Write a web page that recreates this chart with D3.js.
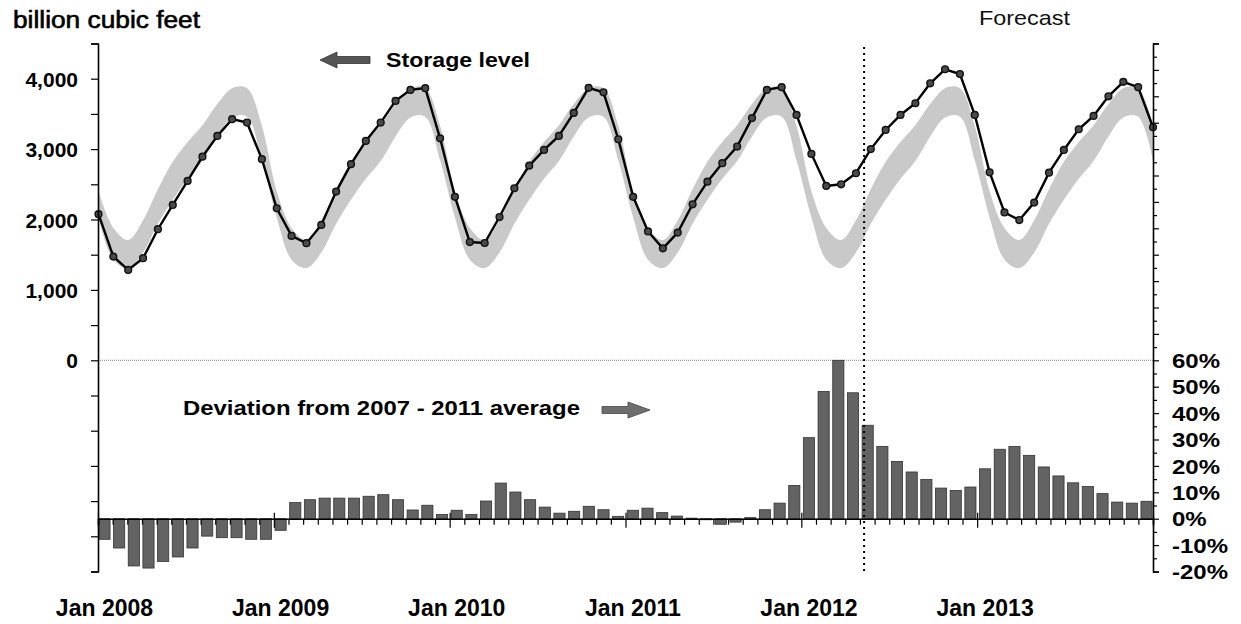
<!DOCTYPE html>
<html><head><meta charset="utf-8">
<script src="https://cdn.jsdelivr.net/npm/d3@7"></script>
<style>
html,body{margin:0;padding:0;background:#fff;}
svg{display:block;font-family:"Liberation Sans",Arial,Helvetica,sans-serif;}
</style></head><body>
<svg id="chart" width="1241" height="624"></svg>
<script>
// ---------- data ----------
const monthNames = ["Jan","Feb","Mar","Apr","May","Jun","Jul","Aug","Sep","Oct","Nov","Dec"];
const years = [2008, 2009, 2010, 2011, 2012, 2013];
const months = years.flatMap(y => monthNames.map(m => m + " " + y));

// working gas in storage, billion cubic feet (end of month)
const storage = [
  2075, 1473, 1284, 1450, 1862, 2207, 2548, 2893, 3187, 3425, 3377, 2857,
  2160, 1767, 1663, 1923, 2396, 2786, 3116, 3377, 3685, 3841, 3866, 3153,
  2322, 1680, 1666, 2035, 2444, 2765, 2988, 3187, 3514, 3870, 3807, 3140,
  2322, 1830, 1590, 1814, 2216, 2537, 2800, 3036, 3440, 3841, 3880, 3485,
  2932, 2477, 2500, 2657, 3000, 3272, 3485, 3651, 3935, 4134, 4067, 3485,
  2670, 2100, 1992, 2240, 2665, 2988, 3282, 3471, 3750, 3955, 3880, 3310
];

// deviation from 2007-2011 average, percent
const deviation = [
  -7.8, -11.1, -17.9, -18.7, -16.2, -14.5, -11.1, -6.6, -7.2, -7.2, -7.8, -7.8,
  -4.4, 6.1, 7.2, 7.8, 7.8, 7.8, 8.5, 9.1, 7.2, 3.3, 5.1, 1.6,
  3.2, 1.6, 6.7, 13.5, 10.1, 7.2, 4.4, 2.1, 2.8, 4.7, 3.4, 0.9,
  3.2, 4.0, 2.3, 1.0, 0.2, -0.4, -2.1, -1.3, 0.4, 3.4, 5.9, 12.6,
  30.7, 48.2, 60.0, 47.7, 35.4, 27.4, 21.7, 17.7, 14.9, 11.6, 10.7, 12.0,
  18.9, 26.3, 27.4, 24.0, 19.6, 16.2, 13.6, 12.2, 9.5, 6.3, 5.9, 6.6
];

// 2007-2011 range (shaded band), by calendar month
const rangeLow  = [2030, 1430, 1310, 1530, 1940, 2280, 2580, 2830, 3180, 3450, 3460, 2840];
const rangeHigh = [2400, 1880, 1710, 1990, 2430, 2820, 3100, 3340, 3640, 3865, 3865, 3330];

const xTickLabels = ["Jan 2008", "Jan 2009", "Jan 2010", "Jan 2011", "Jan 2012", "Jan 2013"];
const leftTickValues = [0, 1000, 2000, 3000, 4000];
const leftTickLabels = ["0", "1,000", "2,000", "3,000", "4,000"];
const rightTickValues = [-20, -10, 0, 10, 20, 30, 40, 50, 60];
const rightTickLabels = ["-20%", "-10%", "0%", "10%", "20%", "30%", "40%", "50%", "60%"];
const forecastStart = "May 2012";

// ---------- layout ----------
const svg = d3.select("#chart");
const X0 = 98, X1 = 1153, YT = 43.5, YB = 571.5;

const xBand = d3.scaleBand().domain(months).range([X0, X1]).paddingInner(0.24).paddingOuter(0.06);
const xLine = d3.scalePoint().domain(months).range([X0 + 0.5, X1]);
const xEdge = d3.scaleLinear().domain([0, months.length]).range([X0, X1]);
const yL = d3.scaleLinear().domain([-3000, 4500]).range([YB, YT]);
const yR = d3.scaleLinear().domain([-20, 180]).range([YB, YT]);

// ---------- band ----------
const bandData = months.map((m, i) => ({m, lo: rangeLow[i % 12], hi: rangeHigh[i % 12]}));
svg.append("path")
  .datum(bandData)
  .attr("fill", "#c9c9c9")
  .attr("d", d3.area().x(d => xLine(d.m)).y0(d => yL(d.lo)).y1(d => yL(d.hi)).curve(d3.curveCatmullRom));

// zero / 60% reference line
svg.append("line")
  .attr("x1", X0).attr("x2", X1).attr("y1", yL(0)).attr("y2", yL(0))
  .attr("stroke", "#8a8a8a").attr("stroke-width", 1).attr("stroke-dasharray", "1,1");

// ---------- bars ----------
svg.append("g").selectAll("rect").data(months.map((m, i) => ({m, v: deviation[i]}))).join("rect")
  .attr("x", d => xBand(d.m))
  .attr("width", xBand.bandwidth())
  .attr("y", d => yR(Math.max(0, d.v)))
  .attr("height", d => Math.abs(yR(d.v) - yR(0)))
  .attr("fill", "#636363")
  .attr("stroke", "#333").attr("stroke-width", 0.8);

// 0% axis with monthly ticks
const gx = svg.append("g").attr("transform", `translate(0,${yR(0)})`)
  .call(d3.axisBottom(xEdge).tickValues(d3.range(0, months.length + 1)).tickSize(6).tickFormat(""));
gx.select(".domain").attr("stroke", "#000").attr("stroke-width", 1.6);
gx.selectAll(".tick line").attr("stroke", "#000").attr("stroke-width", 1.2)
  .attr("y1", d => (d % 12 === 0 ? -6 : 0)).attr("y2", d => (d % 12 === 0 ? 9 : 6));

// ---------- storage line ----------
svg.append("path")
  .datum(months.map((m, i) => ({m, v: storage[i]})))
  .attr("fill", "none").attr("stroke", "#000").attr("stroke-width", 2.4)
  .attr("d", d3.line().x(d => xLine(d.m)).y(d => yL(d.v)));
svg.append("g").selectAll("circle").data(months.map((m, i) => ({m, v: storage[i]}))).join("circle")
  .attr("cx", d => xLine(d.m)).attr("cy", d => yL(d.v)).attr("r", 3.4)
  .attr("fill", "#4a4a4a").attr("stroke", "#111").attr("stroke-width", 1.4);

// ---------- left axis ----------
const gl = svg.append("g").attr("transform", `translate(${X0},0)`)
  .call(d3.axisLeft(yL).tickValues(d3.range(-3000, 4501, 500)).tickSize(7)
    .tickFormat(d => { const k = leftTickValues.indexOf(d); return k >= 0 ? leftTickLabels[k] : ""; }).tickPadding(13));
gl.select(".domain").attr("stroke", "#000").attr("stroke-width", 1.6);
gl.selectAll(".tick line").attr("stroke", "#000").attr("stroke-width", 1.2);
gl.selectAll(".tick text").attr("font-size", 21).attr("font-weight", "bold").attr("fill", "#000")
  .attr("font-family", "'Liberation Sans', Arial, sans-serif").attr("dy", "0.36em");

// ---------- right axis ----------
const gr = svg.append("g").attr("transform", `translate(${X1},0)`)
  .call(d3.axisRight(yR).tickValues(d3.range(-20, 181, 5)).tickSize(6)
    .tickFormat(d => { const k = rightTickValues.indexOf(d); return k >= 0 ? rightTickLabels[k] : ""; }).tickPadding(13));
gr.select(".domain").attr("stroke", "#000").attr("stroke-width", 1.6);
gr.selectAll(".tick line").attr("stroke", "#000").attr("stroke-width", 1.2)
  .attr("x2", d => (d % 10 === 0 ? 6 : 4));
gr.selectAll(".tick text").attr("font-size", 20).attr("font-weight", "bold").attr("fill", "#000")
  .attr("font-family", "'Liberation Sans', Arial, sans-serif").attr("dy", "0.36em")
  .each(function() { const t = d3.select(this); if (t.text()) { const w = this.getComputedTextLength(); t.attr("textLength", w * 1.2).attr("lengthAdjust", "spacingAndGlyphs"); } });

// ---------- x labels ----------
const janMonths = months.filter(m => m.startsWith("Jan"));
const gb = svg.append("g").attr("transform", `translate(0,599)`)
  .call(d3.axisBottom(xBand).tickValues(janMonths).tickSize(0).tickFormat((d, i) => xTickLabels[i]));
gb.select(".domain").remove();
gb.selectAll(".tick text").attr("font-size", 23).attr("font-weight", "bold").attr("fill", "#000")
  .attr("font-family", "'Liberation Sans', Arial, sans-serif").attr("y", 0).attr("dy", "0.72em");

// ---------- forecast divider ----------
const xf = xBand(forecastStart) + 2;
svg.append("line").attr("x1", xf).attr("x2", xf).attr("y1", 47).attr("y2", 571)
  .attr("stroke", "#000").attr("stroke-width", 2).attr("stroke-dasharray", "2,4");

// ---------- texts & arrows ----------
function txt(x, y, s, size, weight, len, extra) {
  const t = svg.append("text").attr("x", x).attr("y", y).text(s)
    .attr("font-size", size).attr("font-weight", weight).attr("fill", "#000");
  if (len) t.attr("textLength", len).attr("lengthAdjust", "spacingAndGlyphs");
  if (extra) extra(t);
  return t;
}
txt(13, 28, "billion cubic feet", 23, "normal", 187, t => t.attr("stroke", "#000").attr("stroke-width", 0.6));
txt(386, 67, "Storage level", 21, "bold", 144);
txt(183, 415, "Deviation from 2007 - 2011 average", 21, "bold", 397);
txt(979, 25, "Forecast", 21, "normal", 91, t => t.attr("fill", "#111"));

// left-pointing arrow (storage level -> left axis)
svg.append("path")
  .attr("d", "M320,60 L337,52 L337,56.5 L370,56.5 L370,63.5 L337,63.5 L337,68 Z")
  .attr("fill", "#555").attr("stroke", "#333").attr("stroke-width", 0.8);
// right-pointing arrow (deviation -> right axis)
svg.append("path")
  .attr("d", "M650,410 L628,402 L628,406.5 L602,406.5 L602,413.5 L628,413.5 L628,418 Z")
  .attr("fill", "#6e6e6e").attr("stroke", "#444").attr("stroke-width", 0.8);
</script>
</body></html>
